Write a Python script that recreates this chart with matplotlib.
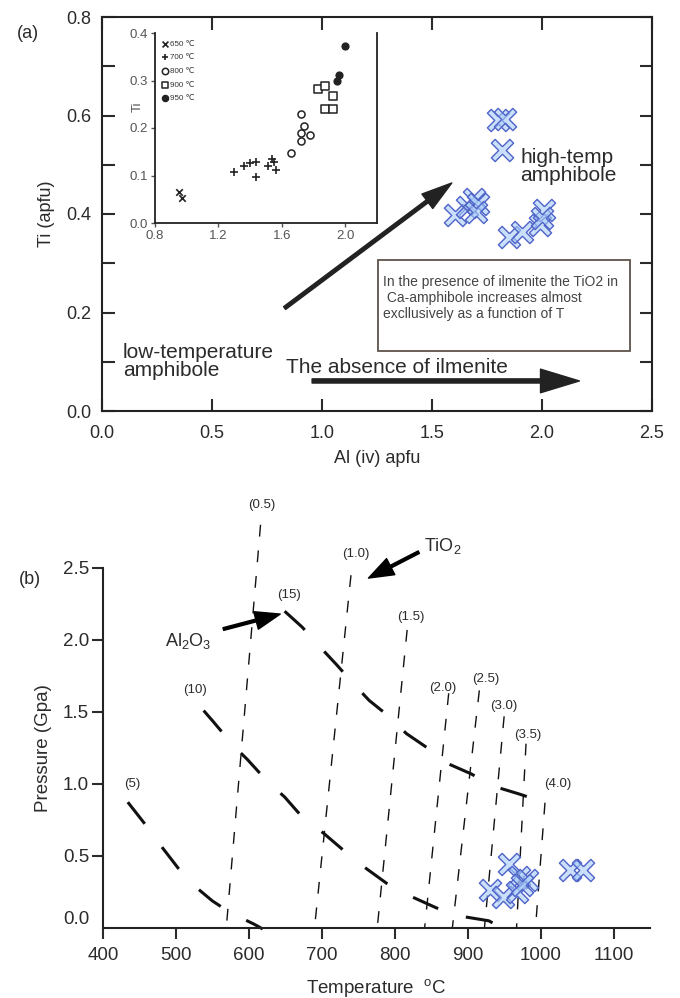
import numpy as np
import matplotlib
matplotlib.use('Agg')
import matplotlib.pyplot as plt
from matplotlib.patches import Rectangle
from matplotlib.path import Path
from matplotlib.transforms import ScaledTranslation

plt.rcParams['font.family'] = ['Liberation Sans', 'DejaVu Sans']
plt.rcParams['mathtext.fontset'] = 'custom'
plt.rcParams['mathtext.rm'] = 'Liberation Sans'
plt.rcParams['mathtext.it'] = 'Liberation Sans:italic'

# ---- panel (a): high-temp amphibole, Al(iv) vs Ti
al_iv = [1.80, 1.83, 1.82, 1.605, 1.66, 1.69, 1.71, 1.70, 1.85, 1.91, 1.99, 2.01, 2.00]
ti_apfu = [0.590, 0.592, 0.530, 0.398, 0.415, 0.430, 0.420, 0.405, 0.354, 0.364, 0.378, 0.408, 0.392]

# inset: experimental amphiboles per temperature
al_650 = [0.95, 0.97]
ti_650 = [0.065, 0.053]
al_700 = [1.30, 1.36, 1.40, 1.44, 1.44, 1.51, 1.54, 1.56, 1.55]
ti_700 = [0.107, 0.119, 0.126, 0.128, 0.097, 0.121, 0.135, 0.112, 0.128]
al_800 = [1.66, 1.72, 1.74, 1.72, 1.72, 1.78]
ti_800 = [0.147, 0.230, 0.205, 0.189, 0.172, 0.186]
al_900 = [1.83, 1.87, 1.92, 1.87, 1.92]
ti_900 = [0.282, 0.288, 0.268, 0.240, 0.240]
al_950 = [2.00, 1.96, 1.95]
ti_950 = [0.372, 0.312, 0.298]
inset_labels = ['650 \u2103', '700 \u2103', '800 \u2103', '900 \u2103', '950 \u2103']

# ---- panel (b): P-T diagram
tio2_labels = ['(0.5)', '(1.0)', '(1.5)', '(2.0)', '(2.5)', '(3.0)', '(3.5)', '(4.0)']
tio2_t_top = [616, 740, 817, 874, 916, 950, 980, 1006]
tio2_p_top = [2.80, 2.45, 2.07, 1.63, 1.65, 1.47, 1.28, 0.87]
tio2_t_bot = [569, 690, 776, 841, 879, 923, 967, 993]
tio2_p_bot = [0, 0, 0, 0, 0, 0, 0, 0]
tio2_lab_t = [618, 747, 822, 866, 925, 950, 983, 1024]
tio2_lab_p = [2.94, 2.60, 2.16, 1.67, 1.73, 1.54, 1.34, 1.00]

al2o3_labels = ['(5)', '(10)', '(15)']
al5_t = [434, 464, 482, 503, 523, 550, 574, 607, 619]
al5_p = [0.874, 0.68, 0.554, 0.416, 0.302, 0.188, 0.108, 0.027, -0.007]
al10_t = [538, 550, 580, 598, 625, 649, 675, 702, 732, 759, 789, 822, 857, 887, 929, 941]
al10_p = [1.51, 1.44, 1.26, 1.17, 1.02, 0.91, 0.76, 0.66, 0.53, 0.42, 0.31, 0.22, 0.14, 0.085, 0.05, 0.016]
al15_t = [649, 673, 696, 720, 741, 765, 792, 816, 845, 869, 905, 932, 971, 997]
al15_p = [2.20, 2.09, 1.96, 1.83, 1.71, 1.58, 1.47, 1.35, 1.25, 1.15, 1.07, 0.99, 0.93, 0.886]
al2o3_lab_t = [440, 526, 655]
al2o3_lab_p = [1.00, 1.65, 2.31]

temp_b = [957, 971, 981, 930, 948, 967, 975, 1040, 1058]
press_b = [0.444, 0.354, 0.333, 0.264, 0.215, 0.250, 0.300, 0.403, 0.403]

txt = '#2b2b2b'
blue_fc = (0.66, 0.80, 0.97, 0.6)
blue_ec = '#4f63c8'

# thin-armed saltire marker like the hand-drawn crosses
a = 0.17
cross = Path([(0, a), (0.5 - a, 0.5), (0.5, 0.5 - a), (a, 0), (0.5, -0.5 + a),
              (0.5 - a, -0.5), (0, -a), (-0.5 + a, -0.5), (-0.5, -0.5 + a),
              (-a, 0), (-0.5, 0.5 - a), (-0.5 + a, 0.5), (0, a)])

fig = plt.figure(figsize=(6.8, 9.98), dpi=100)

# ================= panel (a)
ax = fig.add_axes([102/680, 1-411/998, 550/680, 394/998])
ax.plot(al_iv, ti_apfu, ls='none', marker=cross, ms=16, mfc=blue_fc, mec=blue_ec, mew=1.0)
ax.set_xlim(0, 2.5)
ax.set_ylim(0, 0.8)
ax.set_xticks(np.arange(0, 2.51, 0.5))
ax.set_xticklabels(['0.0', '0.5', '1.0', '1.5', '2.0', '2.5'])
ax.set_yticks(np.arange(0, 0.81, 0.1))
ax.set_yticklabels(['0.0', '', '0.2', '', '0.4', '', '0.6', '', '0.8'])
ax.tick_params(direction='in', length=9, width=1.5, top=True, right=True,
               labelsize=13, colors=txt)
ax.tick_params(axis='x', pad=10)
ax.tick_params(axis='y', pad=8)
for s in ax.spines.values():
    s.set_linewidth(1.5)
    s.set_color('#222222')
ax.set_xlabel('Al (iv) apfu', fontsize=13, color=txt, labelpad=6)
ax.set_ylabel('Ti (apfu)', fontsize=13, color=txt, labelpad=8)

fig.text(28/680, 1-33/998, '(a)', fontsize=13, color=txt, ha='center', va='center')

ax.text(1.90, 0.497, 'high-temp\namphibole', fontsize=15, color=txt,
        ha='left', va='center', linespacing=0.95)
ax.text(0.095, 0.10, 'low-temperature\namphibole', fontsize=15, color=txt,
        ha='left', va='center', linespacing=0.95)
ax.text(0.836, 0.089, 'The absence of ilmenite', fontsize=15, color=txt,
        ha='left', va='center')

ax.annotate('', xy=(1.59, 0.463), xytext=(0.83, 0.209),
            arrowprops=dict(facecolor='#222', edgecolor='#222', width=2.5,
                            headwidth=13, headlength=22, shrink=0))
ax.annotate('', xy=(2.17, 0.061), xytext=(0.955, 0.061),
            arrowprops=dict(facecolor='#222', edgecolor='#222', width=3,
                            headwidth=17, headlength=28, shrink=0))

ax.add_patch(Rectangle((1.255, 0.122), 2.4 - 1.255, 0.307 - 0.122, fill=False,
                       ec='#5e534b', lw=1.3))
ax.text(1.277, 0.229,
        'In the presence of ilmenite the TiO2 in\n Ca-amphibole increases almost\nexcllusively as a function of T',
        fontsize=10, color='#444444', ha='left', va='center', linespacing=1.2)

# inset
axi = fig.add_axes([155/680, 1-223/998, 222/680, 190/998])
axi.scatter(al_650, ti_650, marker='x', s=22, c='#222', linewidths=1.2, label=inset_labels[0])
axi.scatter(al_700, ti_700, marker='+', s=30, c='#222', linewidths=1.2, label=inset_labels[1])
axi.scatter(al_800, ti_800, marker='o', s=26, facecolors='white', edgecolors='#222',
            linewidths=1.1, label=inset_labels[2])
axi.scatter(al_900, ti_900, marker='s', s=26, facecolors='white', edgecolors='#222',
            linewidths=1.1, label=inset_labels[3])
axi.scatter(al_950, ti_950, marker='o', s=24, c='#222', label=inset_labels[4])
axi.set_xlim(0.8, 2.2)
axi.set_ylim(0, 0.4)
axi.set_xticks([0.8, 1.2, 1.6, 2.0])
axi.set_yticks([0.0, 0.1, 0.2, 0.3, 0.4])
axi.tick_params(direction='out', length=3, width=1, labelsize=9.5, colors='#555555', pad=2)
axi.spines['top'].set_visible(False)
for k in ['left', 'bottom', 'right']:
    axi.spines[k].set_linewidth(1.3)
    axi.spines[k].set_color('#222222')
axi.text(-0.077, 0.61, 'Ti', transform=axi.transAxes, rotation=90, fontsize=9.5,
         color='#555555', ha='center', va='center')
leg = axi.legend(loc='upper left', bbox_to_anchor=(0.02, 0.98), frameon=False,
                 fontsize=5.8, handlelength=0.6, handletextpad=0.3,
                 labelspacing=0.75, borderpad=0.3, borderaxespad=0.1,
                 markerscale=0.9)
for t in leg.get_texts():
    t.set_color('#333333')

# ================= panel (b)
bx = fig.add_axes([103/680, 1-928/998, 547/680, 360/998])
for i in range(len(tio2_labels)):
    bx.plot([tio2_t_top[i], tio2_t_bot[i]], [tio2_p_top[i], tio2_p_bot[i]],
            color='#111', lw=1.0, dashes=(8.5, 10), clip_on=False)
    bx.text(tio2_lab_t[i], tio2_lab_p[i], tio2_labels[i], fontsize=9.5,
            color=txt, ha='center', va='center')
for t_line, p_line in [(al5_t, al5_p), (al10_t, al10_p), (al15_t, al15_p)]:
    bx.plot(t_line, p_line, color='#111', lw=2.2, dashes=(9, 9.5),
            clip_on=False, solid_capstyle='butt', dash_capstyle='butt')
for i in range(len(al2o3_labels)):
    bx.text(al2o3_lab_t[i], al2o3_lab_p[i], al2o3_labels[i], fontsize=9.5,
            color=txt, ha='center', va='center')
bx.plot(temp_b, press_b, ls='none', marker=cross, ms=16, mfc=blue_fc, mec=blue_ec, mew=1.0)

bx.set_xlim(400, 1150)
bx.set_ylim(0, 2.5)
bx.set_xticks(np.arange(400, 1101, 100))
bx.set_yticks([0.0, 0.5, 1.0, 1.5, 2.0, 2.5])
bx.set_yticklabels(['0.0', '0.5', '1.0', '1.5', '2.0', '2.5'])
bx.tick_params(direction='out', length=8, width=1.5, labelsize=13.5, colors=txt)
bx.tick_params(axis='x', pad=6)
bx.tick_params(axis='y', pad=2)
bx.spines['top'].set_visible(False)
bx.spines['right'].set_visible(False)
for k in ['left', 'bottom']:
    bx.spines[k].set_linewidth(1.5)
    bx.spines[k].set_color('#222222')
# the 0.0 label sits a little above the corner, with no tick
zero_tick = bx.yaxis.get_major_ticks()[0]
zero_tick.tick1line.set_visible(False)
zero_tick.label1.set_transform(zero_tick.label1.get_transform() +
                               ScaledTranslation(0, 10/100, fig.dpi_scale_trans))

bx.set_xlabel('Temperature  $^{\\rm o}$C', fontsize=13.5, color=txt, labelpad=9)
bx.set_ylabel('Pressure (Gpa)', fontsize=13.5, color=txt, labelpad=8)
fig.text(30/680, 1-580/998, '(b)', fontsize=13, color=txt, ha='center', va='center')

bx.annotate('', xy=(643, 2.18), xytext=(565, 2.076), annotation_clip=False,
            arrowprops=dict(facecolor='k', edgecolor='k', width=2,
                            headwidth=13, headlength=18, shrink=0))
bx.text(517, 1.995, 'Al$_{\\rm 2}$O$_{\\rm 3}$', fontsize=13, color=txt,
        ha='center', va='center')
bx.annotate('', xy=(764, 2.43), xytext=(833, 2.61), annotation_clip=False,
            arrowprops=dict(facecolor='k', edgecolor='k', width=2,
                            headwidth=13, headlength=18, shrink=0))
bx.text(866, 2.655, 'TiO$_{\\rm 2}$', fontsize=13, color=txt,
        ha='center', va='center')

fig.savefig('out.png', dpi=100)
